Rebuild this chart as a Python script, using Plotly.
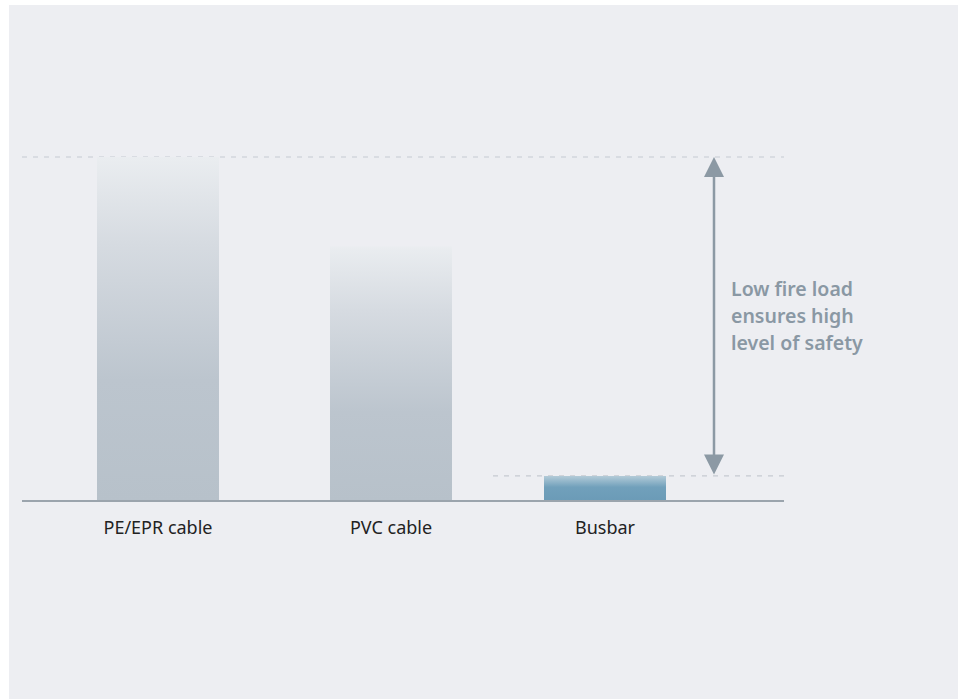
import plotly.graph_objects as go

# ---- data ----
categories = ["PE/EPR cable", "PVC cable", "Busbar"]
fire_load = [100, 74, 7.3]          # relative fire load (%)
note_lines = ["Low fire load", "ensures high", "level of safety"]

# ---- layout constants (pixels == axis units on x) ----
W, H = 958, 699
X_CENTERS = [158, 391, 605]
BAR_HALF = 61
BASE_PX = 501            # pixel row of value 0
PX_PER_UNIT = 3.44
Y_MIN = -(H - BASE_PX) / PX_PER_UNIT
Y_MAX = BASE_PX / PX_PER_UNIT

grey_scale = [[0, "#b7c1ca"], [0.35, "#bcc5ce"], [0.75, "#d6dbe1"], [1, "#eaedf0"]]
blue_scale = [[0, "#6b9bb7"], [0.55, "#71a0bb"], [1, "#b3cbd8"]]

fig = go.Figure()
for i, (cat, v) in enumerate(zip(categories, fire_load)):
    xc = X_CENTERS[i]
    xs = [xc - BAR_HALF, xc + BAR_HALF, xc + BAR_HALF, xc - BAR_HALF, xc - BAR_HALF]
    ys = [0, 0, v, v, 0]
    scale = blue_scale if cat == "Busbar" else grey_scale
    fig.add_trace(go.Scatter(
        x=xs, y=ys, mode="lines", fill="toself",
        line=dict(width=0, color="rgba(0,0,0,0)"),
        fillgradient=dict(type="vertical", colorscale=scale, start=0, stop=v),
        hoverinfo="skip", showlegend=False, name=cat,
    ))

shapes = [
    # grey panel
    dict(type="rect", xref="paper", yref="paper", x0=9 / W, x1=1.01, y0=-0.01, y1=1 - 5 / H,
         fillcolor="#edeef2", line=dict(width=0), layer="below"),
    # baseline
    dict(type="line", xref="x", yref="y", x0=22, x1=784, y0=0, y1=0,
         line=dict(color="#9ba4ad", width=2), layer="above"),
    # dashed reference lines
    dict(type="line", xref="x", yref="y", x0=22, x1=784, y0=fire_load[0], y1=fire_load[0],
         line=dict(color="#c6cad1", width=1.2, dash="5px,6px"), layer="below"),
    dict(type="line", xref="x", yref="y", x0=493, x1=784, y0=fire_load[2], y1=fire_load[2],
         line=dict(color="#c6cad1", width=1.2, dash="5px,6px"), layer="below"),
]

annotations = [
    dict(x=714, y=fire_load[0], ax=714, ay=fire_load[2], xref="x", yref="y",
         axref="x", ayref="y", text="", showarrow=True, arrowside="end+start",
         arrowhead=2, arrowsize=1.6, arrowwidth=2.5, arrowcolor="#8c99a4",
         standoff=0, startstandoff=0),
]
for k, line in enumerate(note_lines):
    py = 288 + 27 * k
    annotations.append(dict(
        x=729, y=(BASE_PX - py) / PX_PER_UNIT, xref="x", yref="y",
        text=line, showarrow=False, xanchor="left", yanchor="middle",
        font=dict(family="Noto Sans", size=19.5, color="#8a98a4", weight=600),
    ))

fig.update_layout(
    width=W, height=H,
    margin=dict(l=0, r=0, t=0, b=0),
    paper_bgcolor="white", plot_bgcolor="rgba(0,0,0,0)",
    xaxis=dict(range=[0, W], domain=[0, 1], showgrid=False, zeroline=False,
               showline=False, tickmode="array", tickvals=X_CENTERS, ticktext=categories,
               ticks="", anchor="free", position=(H - BASE_PX) / H,
               tickfont=dict(family="Noto Sans", size=18, color="#222222"),
               ticklabelstandoff=14, fixedrange=True),
    yaxis=dict(range=[Y_MIN, Y_MAX], domain=[0, 1], showgrid=False, zeroline=False,
               showticklabels=False, showline=False, fixedrange=True),
    shapes=shapes, annotations=annotations, showlegend=False,
)

fig.write_html("out.html")
